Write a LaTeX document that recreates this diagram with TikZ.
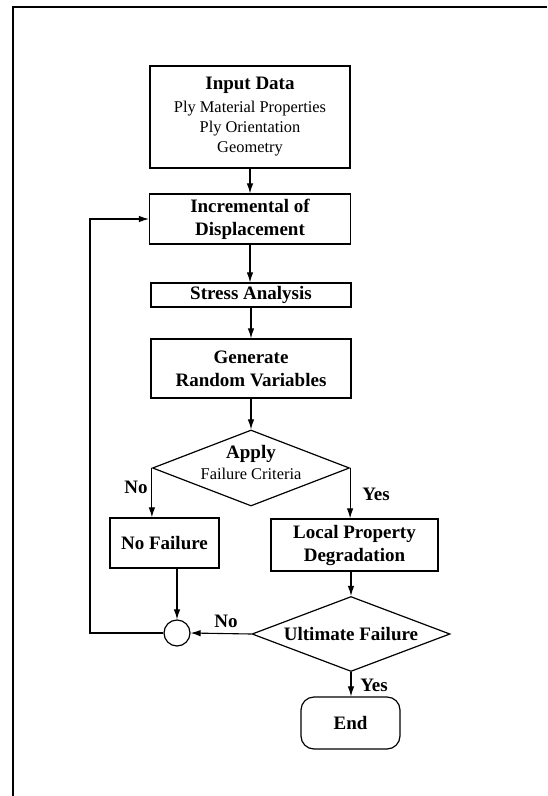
\documentclass[tikz,border=0pt]{standalone}
\usepackage{fontspec}
\setmainfont{Liberation Serif}
\usetikzlibrary{shapes.geometric,arrows.meta}
\newcommand{\bfl}{\fontsize{19}{23}\selectfont\bfseries}
\newcommand{\rgl}{\fontsize{16.4}{20}\selectfont\mdseries}
\tikzset{
  box/.style={draw, line width=1.2pt, inner sep=0pt, align=center, font=\bfl},
  dia/.style={draw, diamond, line width=1.2pt, inner sep=0pt},
  arr/.style={line width=1.1pt, -{Latex[length=10pt,width=6.5pt]}},
  lab/.style={font=\bfl, inner sep=0pt}
}
\begin{document}
\begin{tikzpicture}[x=1pt,y=-1pt]
\useasboundingbox (0,0) rectangle (547,796);
% frame
\draw[line width=2pt] (13,796) -- (13,7) -- (547,7);
% nodes
\node[box, minimum width=200pt, minimum height=102pt] (inp) at (250,117)
  {Input Data\\{\rgl Ply Material Properties}\\[-3pt]{\rgl Ply Orientation}\\[-3pt]{\rgl Geometry}};
\node[box, minimum width=201pt, minimum height=50pt] (inc) at (250,219) {Incremental of\\Displacement};
\node[box, minimum width=200pt, minimum height=24pt] (str) at (251,295) {Stress Analysis};
\node[box, minimum width=200pt, minimum height=59pt] (gen) at (251,368.5) {Generate\\Random Variables};
\node[dia, minimum width=197pt, minimum height=76pt] (apply) at (251,468) {};
\node[align=center, inner sep=0pt, font=\rgl] (applyt) at (251,462) {{\bfl Apply}\\[1pt]Failure Criteria};
\node[box, minimum width=109pt, minimum height=50pt] (nof) at (164.5,543) {No Failure};
\node[box, minimum width=167pt, minimum height=52pt] (loc) at (354.5,545) {Local Property\\Degradation};
\node[dia, minimum width=198pt, minimum height=75pt] (ult) at (351,634) {};
\node[lab] (ultt) at (351,634) {Ultimate Failure};
\node[draw, circle, line width=1.2pt, minimum size=26pt, inner sep=0pt] (circ) at (177,633) {};
\node[box, rounded corners=13pt, minimum width=99pt, minimum height=52pt] (end) at (350.5,723) {End};
% connectors
\draw[arr] (inp) -- (inc);
\draw[arr] (inc) -- (inc |- str.north);
\draw[arr] (str.south -| gen) -- (gen);
\draw[arr] (gen.south -| apply) -- (apply.north);
\draw[arr] (apply.west) -- (apply.west |- nof.north);
\draw[arr] (apply.east) -- (apply.east |- loc.north);
\draw[arr] (loc.south -| ult) -- (ult.north);
\draw[arr] (circ |- nof.south) -- (circ.north);
\draw[arr] (ult.west) -- (circ.east);
\draw[arr] (ult.south) -- (end.north -| ult.south);
\coordinate (lp) at (90,633);
\draw[arr] (circ.west) -- (lp) |- (inc.west);
% labels
\node[lab] (lno1) at (136,487) {No};
\node[lab] (lyes1) at (376,494) {Yes};
\node[lab] (lno2) at (226,621) {No};
\node[lab] (lyes2) at (374,685) {Yes};
\end{tikzpicture}
\end{document}
